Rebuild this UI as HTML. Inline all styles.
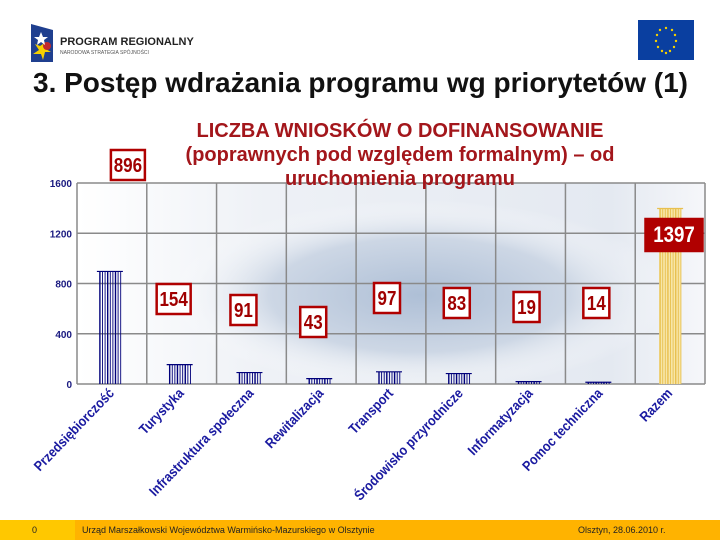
<!DOCTYPE html>
<html><head><meta charset="utf-8">
<style>
html,body{margin:0;padding:0;}
body{width:720px;height:540px;position:relative;overflow:hidden;background:#fff;font-family:"Liberation Sans",sans-serif;}
.abs{position:absolute;}
</style></head>
<body>
<div class="abs" style="left:25px;top:22px;width:30px;height:42px;">
<svg width="30" height="42"><polygon points="6,2 28,8 28,40 6,40" fill="#1f3f8f"/><polygon points="10,22 14,28 8,32 16,32 18,38 20,30 26,30 19,26 21,20 15,24" fill="#f5d000"/><circle cx="22" cy="24" r="4" fill="#c0282d"/><polygon points="16,10 18,15 23,15 19,18 20,23 16,20 12,23 13,18 9,15 14,15" fill="#fff"/></svg>
</div>
<div class="abs" style="left:60px;top:36px;font-size:11px;font-weight:bold;color:#222;">PROGRAM REGIONALNY</div>
<div class="abs" style="left:60px;top:50px;font-size:5px;color:#555;">NARODOWA STRATEGIA SPÓJNOŚCI</div>
<div class="abs" style="left:638px;top:20px;width:56px;height:40px;background:#0a3fa0;">
<svg width="56" height="40"><g fill="#f5d000"><circle cx="28" cy="8" r="1.2"/><circle cx="34" cy="10" r="1.2"/><circle cx="37" cy="15" r="1.2"/><circle cx="38" cy="21" r="1.2"/><circle cx="36" cy="27" r="1.2"/><circle cx="32" cy="31" r="1.2"/><circle cx="24" cy="31" r="1.2"/><circle cx="20" cy="27" r="1.2"/><circle cx="18" cy="21" r="1.2"/><circle cx="19" cy="15" r="1.2"/><circle cx="22" cy="10" r="1.2"/><circle cx="28" cy="33" r="1.2"/></g></svg>
</div>
<div class="abs" style="left:33px;top:67px;font-size:28px;font-weight:bold;color:#111;white-space:nowrap;">3. Postęp wdrażania programu wg priorytetów (1)</div>

<svg class="abs" style="left:0;top:0" width="720" height="520">
<defs>
<radialGradient id="flag" cx="0.5" cy="0.5" r="0.5">
<stop offset="0" stop-color="#aebfd6"/><stop offset="0.6" stop-color="#cdd7e5"/><stop offset="1" stop-color="#fff" stop-opacity="0"/>
</radialGradient>
<linearGradient id="bgplot" x1="0" x2="1"><stop offset="0" stop-color="#fff"/><stop offset="0.3" stop-color="#eef1f6"/><stop offset="0.85" stop-color="#e4e9f1"/><stop offset="1" stop-color="#f6f7fa"/></linearGradient>
</defs>
<rect x="78" y="183" width="627" height="201" fill="url(#bgplot)"/>
<ellipse cx="420" cy="295" rx="250" ry="95" fill="url(#flag)"/>
<g id="grid"></g>
<g id="bars"></g>
<g id="labels"></g>
<text x="400" y="137" text-anchor="middle" font-size="20" font-weight="bold" fill="#a3161b">LICZBA WNIOSKÓW O DOFINANSOWANIE</text>
<text x="400" y="161" text-anchor="middle" font-size="20" font-weight="bold" fill="#a3161b">(poprawnych pod względem formalnym) – od</text>
<text x="400" y="185" text-anchor="middle" font-size="20" font-weight="bold" fill="#a3161b">uruchomienia programu</text>
<g id="boxes"></g>
</svg>

<div class="abs" style="left:0;top:520px;width:720px;height:20px;background:#ffb300;"></div>
<div class="abs" style="left:0;top:520px;width:75px;height:20px;background:#ffc800;font-size:9px;line-height:20px;text-indent:32px;color:#222;">0</div>
<div class="abs" style="left:82px;top:520px;font-size:9px;line-height:20px;color:#222;">Urząd Marszałkowski Województwa Warmińsko-Mazurskiego w Olsztynie</div>
<div class="abs" style="left:578px;top:520px;font-size:9px;line-height:20px;color:#222;">Olsztyn, 28.06.2010 r.</div>

<script>
const categories=["Przedsiębiorczość","Turystyka","Infrastruktura społeczna","Rewitalizacja","Transport","Środowisko przyrodnicze","Informatyzacja","Pomoc techniczna","Razem"];
const values=[896,154,91,43,97,83,19,14,1397];
const yTicks=[0,400,800,1200,1600];
const NS="http://www.w3.org/2000/svg";
const X0=77,X1=705,Y0=384,Y1=183,YMAX=1600;
const bw=(X1-X0)/categories.length;
function y(v){return Y0-(v/YMAX)*(Y0-Y1);}
function xc(i){return X0+bw*(i+0.5);}
function mk(tag,attrs,parent){const e=document.createElementNS(NS,tag);for(const k in attrs)e.setAttribute(k,attrs[k]);parent.appendChild(e);return e;}
const grid=document.getElementById('grid'),bars=document.getElementById('bars'),labels=document.getElementById('labels'),boxes=document.getElementById('boxes');
yTicks.forEach(t=>{
 const l=mk('line',{x1:X0,x2:X1,y1:y(t),y2:y(t),stroke:'#8a8a8a','stroke-width':1.5},grid);
 
 
 const tx=mk('text',{x:72,y:y(t)+4,'text-anchor':'end','font-size':10,'font-weight':'bold',fill:'#1a1a80'},labels);
 tx.textContent=t;
 
 
});
for(let i=0;i<=categories.length;i++){
 const l=mk('line',{x1:X0+bw*i,x2:X0+bw*i,y1:Y1,y2:Y0,stroke:'#8a8a8a','stroke-width':1.5},grid);
 
 
}
const boxDx=[16,-8,-8,-8,-4,-4,-4,-4,0];
const boxTop=[150,284,295,307,283,288,292,288,219];
categories.forEach((c,i)=>{
 const v=values[i],last=i===categories.length-1;
 const col=last?'#e8c050':'#00007a';
 const cx=xc(i)-(last?0:2),w=26;
 const g=mk('g',{},bars);
 
 
 if(last) mk('rect',{x:cx-w/2+2,y:y(v),width:w-4,height:Y0-y(v),fill:'#f7e6a8'},g);
 for(let k=0;k<9;k++){
   const xx=cx-w/2+3+k*2.6;
   mk('line',{x1:xx,x2:xx,y1:y(v),y2:Y0,stroke:col,'stroke-width':k%3===0?1.4:0.9},g);
 }
 mk('line',{x1:cx-w/2,x2:cx+w/2,y1:y(v),y2:y(v),stroke:col,'stroke-width':1.2},g);
 const lx=xc(i)+3,ly=Y0+10;
 const t=mk('text',{x:lx,y:ly,'text-anchor':'end','font-size':14,'font-weight':'bold',fill:'#1a1aa0',transform:`rotate(-46 ${lx} ${ly})`},labels);
 t.textContent=c;
 const L=t.getComputedTextLength();
 t.setAttribute('textLength',(L*0.88).toFixed(1));
 t.setAttribute('lengthAdjust','spacingAndGlyphs');
 
 
 const txt=String(v);
 const bwid=last?57:(txt.length*8+10),bh=last?32:30;
 const bxc=last?674:xc(i)+boxDx[i];
 const byy=boxTop[i];
 const bg=mk('g',{},boxes);
 
 
 mk('rect',{x:bxc-bwid/2,y:byy,width:bwid,height:bh,fill:last?'#b00000':'#fff',stroke:'#b00000','stroke-width':2.5},bg);
 const vt=mk('text',{x:bxc,y:byy+bh/2+7,'text-anchor':'middle','font-size':last?22:20,'font-weight':'bold',fill:last?'#fff':'#a00000'},bg);
 vt.textContent=txt;
 const VL=vt.getComputedTextLength();
 vt.setAttribute('textLength',(VL*0.85).toFixed(1));
 vt.setAttribute('lengthAdjust','spacingAndGlyphs');
});
</script>
</body></html>
